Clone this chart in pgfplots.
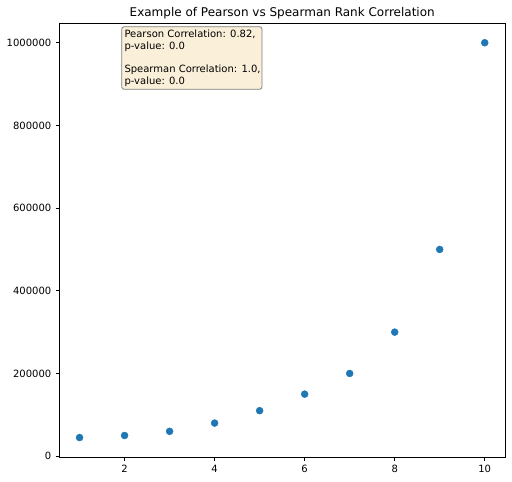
\documentclass[border=0pt]{standalone}
\usepackage{pgfplots}
\pgfplotsset{compat=1.18}
\usepackage{fontspec}
\setmainfont{DejaVu Sans}
\definecolor{mplblue}{HTML}{1F77B4}
\definecolor{boxfill}{HTML}{FAEFD9}
\definecolor{boxedge}{HTML}{808080}
\begin{document}
\begin{tikzpicture}
\path[use as bounding box] (0,0) rectangle (512pt,482pt);
\begin{axis}[
  at={(59.3pt,24.7pt)}, anchor=south west,
  scale only axis, width=445.7pt, height=434.3pt,
  xmin=0.55, xmax=10.45, ymin=-2750, ymax=1047750,
  xtick={2,4,6,8,10}, ytick={0,200000,400000,600000,800000,1000000},
  scaled y ticks=false,
  /pgf/number format/.cd, fixed, 1000 sep={}, assume math mode=true, /pgfplots/.cd,
  tick label style={font=\fontsize{10}{12}\selectfont, text=black},
  tick align=outside, tick pos=left,
  major tick length=3.5pt,
  axis line style={line width=0.8pt, black},
  every tick/.style={line width=0.8pt, black},
  xticklabel style={yshift=-1pt},
  yticklabel style={xshift=-1pt},
]
\addplot[only marks, mark=*, mark size=3.5pt, mplblue, mark options={draw=mplblue, fill=mplblue}] coordinates {
(1,45000) (2,50000) (3,60000) (4,80000) (5,110000) (6,150000) (7,200000) (8,300000) (9,500000) (10,1000000)
};
\end{axis}
\node[anchor=base, font=\fontsize{12}{14}\selectfont] at (282.2pt,465pt) {Example of Pearson vs Spearman Rank Correlation};
\draw[boxedge, fill=boxfill, rounded corners=2.5pt, line width=0.8pt] (121.7pt,455.3pt) rectangle (262pt,392.7pt);
\node[anchor=north west, inner sep=0pt, align=left, font=\fontsize{10}{11.7}\selectfont] at (124.3pt,452.3pt) {Pearson Correlation: 0.82,\\p-value: 0.0\\[11.7pt]Spearman Correlation: 1.0,\\p-value: 0.0};
\end{tikzpicture}
\end{document}
